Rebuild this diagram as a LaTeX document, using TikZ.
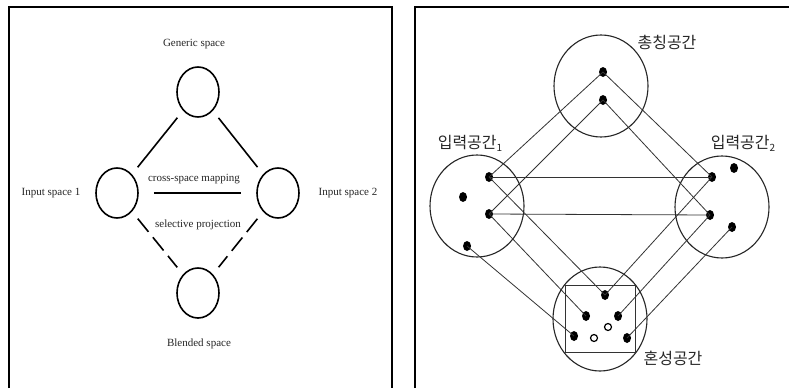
\documentclass[tikz,border=0pt]{standalone}
\usepackage{fontspec}
\setmainfont{Liberation Serif}
\newfontfamily\kor{Noto Sans CJK KR}
\usetikzlibrary{shapes.geometric}
\begin{document}
\begin{tikzpicture}[x=1pt,y=-1pt,
  frame/.style={line width=2pt,black},
  space/.style={draw,ellipse,line width=1.6pt,minimum width=42pt,minimum height=50pt,inner sep=0pt},
  link/.style={line width=1.6pt,shorten <=9pt,shorten >=9pt},
  dlink/.style={link,dash pattern=on 17pt off 7pt},
  lab/.style={font=\fontsize{11pt}{11pt}\selectfont,text=black!85,inner sep=0pt},
  bigspace/.style={draw,ellipse,line width=1.1pt,draw=black!85,minimum width=94pt,minimum height=102pt,inner sep=0pt},
  dot/.style={ellipse,fill=black,minimum width=8pt,minimum height=10pt,inner sep=0pt},
  hollow/.style={circle,draw=black,line width=1.2pt,fill=white,minimum size=7pt,inner sep=0pt},
  thin/.style={line width=0.8pt,draw=black!80},
  klab/.style={font=\kor\fontsize{16pt}{16pt}\selectfont,text=black!85,inner sep=0pt}
]
\useasboundingbox (0,0) rectangle (789,388);
\fill[white] (0,0) rectangle (789,388);
% frames
\draw[frame] (9,388) -- (9,7) -- (392,7) -- (392,388);
\draw[frame] (415,388) -- (415,7) -- (789,7);

% ---------- left panel ----------
\node[space] (gen) at (198,92) {};
\node[space] (in1) at (117,193) {};
\node[space] (in2) at (278,193) {};
\node[space] (bl) at (198,293) {};
\node[lab] (tgen) at (194,44) {Generic space};
\node[lab] (tin1) at (51,193) {Input space 1};
\node[lab] (tin2) at (348,193) {Input space 2};
\node[lab] (tbl) at (199,344) {Blended space};
\node[lab] (tcs) at (194,179) {cross-space mapping};
\node[lab] (tsp) at (198,225) {selective projection};
\draw[link] (gen) -- (in1);
\draw[link] (gen) -- (in2);
\draw[line width=1.6pt,shorten <=15pt,shorten >=15pt] (in1) -- (in2);
\draw[dlink] (in1) -- (bl);
\draw[dlink] (in2) -- (bl);

% ---------- right panel ----------
\node[bigspace] (G) at (601,86) {};
\node[bigspace] (I1) at (477,206) {};
\node[bigspace] (I2) at (722,207) {};
\node[bigspace,minimum height=104pt] (B) at (600,319) {};
\draw[line width=0.9pt,draw=black!80] (565,285) rectangle (635,352);
\node[klab] (kG) at (667,42) {총칭공간};
\node[klab] (kI1) at (470,143) {입력공간\raisebox{-3pt}{\fontsize{10pt}{10pt}\selectfont 1}};
\node[klab] (kI2) at (743,143) {입력공간\raisebox{-3pt}{\fontsize{10pt}{10pt}\selectfont 2}};
\node[klab] (kB) at (673,358) {혼성공간};

\node[dot] (t1) at (603,72) {};
\node[dot] (t2) at (603,100) {};
\node[dot] (l1) at (489,177) {};
\node[dot] (l3) at (463,197) {};
\node[dot] (l2) at (489,214) {};
\node[dot] (l4) at (467,246) {};
\node[dot] (r1) at (712,177) {};
\node[dot] (r3) at (734,168) {};
\node[dot] (r2) at (710,215) {};
\node[dot] (r4) at (732,227) {};
\node[dot] (b1) at (605,295) {};
\node[dot] (b2) at (586,316) {};
\node[dot] (b3) at (618,316) {};
\node[dot] (b4) at (574,336) {};
\node[dot] (b5) at (627,338) {};
\node[hollow] (h1) at (608,327) {};
\node[hollow] (h2) at (594,338) {};

\draw[thin] (t1.center) -- (l1.center);
\draw[thin] (t1.center) -- (r1.center);
\draw[thin] (t2.center) -- (l2.center);
\draw[thin] (t2.center) -- (r2.center);
\draw[thin] (l1.center) -- (r1.center);
\draw[thin] (l2.center) -- (r2.center);
\draw[thin] (l1.center) -- (b1.center);
\draw[thin] (r1.center) -- (b1.center);
\draw[thin] (l2.center) -- (b2.center);
\draw[thin] (r2.center) -- (b3.center);
\draw[thin] (l4.center) -- (b4.center);
\draw[thin] (r4.center) -- (b5.center);
\end{tikzpicture}
\end{document}
